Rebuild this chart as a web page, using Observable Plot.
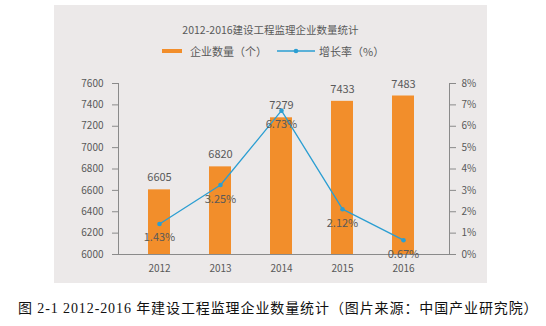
<!DOCTYPE html>
<html>
<head>
<meta charset="utf-8">
<script src="https://cdn.jsdelivr.net/npm/d3@7"></script>
<script src="https://cdn.jsdelivr.net/npm/@observablehq/plot@0.6"></script>
<style>
  html, body { margin: 0; padding: 0; background: #fff; }
  #wrap { position: relative; width: 546px; height: 326px; overflow: hidden; font-family: "Noto Sans CJK SC", "Noto Sans", sans-serif; }
  #panel { position: absolute; left: 54px; top: 5px; width: 433px; height: 278px; background: #ECE9E9; }
  #title { position: absolute; left: 0; width: 433px; top: 17px; text-align: center; font-size: 10.5px; color: #595959; }
  #legend { position: absolute; left: 0; width: 433px; top: 37px; font-size: 11px; color: #595959; }
  .li { position: absolute; top: 0; white-space: nowrap; display: flex; align-items: center; height: 18px; }
  #chart { position: absolute; left: 0; top: 65px; }
  #caption { position: absolute; left: 18px; top: 297px; font-size: 14px; color: #111; font-family: "Liberation Serif", "Noto Sans CJK SC", serif; white-space: nowrap; letter-spacing: 0.9px; }
</style>
</head>
<body>
<div id="wrap">
  <div id="panel">
    <div id="title"></div>
    <div id="legend">
      <div class="li" style="left:108px"><span style="display:inline-block;width:20px;height:4px;background:#F28E2B;margin-right:8px"></span><span id="lg1"></span></div>
      <div class="li" style="left:223px"><svg width="38" height="8" style="margin-right:4px"><line x1="0" y1="4" x2="38" y2="4" stroke="#2B9ED2" stroke-width="1.3"/><circle cx="19" cy="4" r="2.3" fill="#2B9ED2"/></svg><span id="lg2"></span></div>
    </div>
    <div id="chart"></div>
  </div>
  <div id="caption"></div>
</div>
<script>
const years = ["2012", "2013", "2014", "2015", "2016"];
const counts = [6605, 6820, 7279, 7433, 7483];
const rates = [1.43, 3.25, 6.73, 2.12, 0.67];
const leftTicks = [6000, 6200, 6400, 6600, 6800, 7000, 7200, 7400, 7600];
const rightTicks = [0, 1, 2, 3, 4, 5, 6, 7, 8];
const titleText = "2012-2016建设工程监理企业数量统计";
const seriesNames = ["企业数量（个）", "增长率（%）"];
const captionText = "图 2-1 2012-2016 年建设工程监理企业数量统计（图片来源：中国产业研究院）";

document.getElementById("title").textContent = titleText;
document.getElementById("lg1").textContent = seriesNames[0];
document.getElementById("lg2").textContent = seriesNames[1];
document.getElementById("caption").textContent = captionText;

// map percentage axis (0..8%) onto the count axis (6000..7600)
const yMin = 6000, yMax = 7600, rMax = 8;
const toY = r => yMin + r / rMax * (yMax - yMin);
const fromY = v => (v - yMin) / (yMax - yMin) * rMax;

const data = years.map((y, i) => ({year: y, count: counts[i], rate: rates[i], ry: toY(rates[i])}));

const axisColor = "#8a8a8a";
const textColor = "#595959";

const chart = Plot.plot({
  width: 433,
  height: 213,
  marginLeft: 64,
  marginRight: 38,
  marginTop: 13,
  marginBottom: 29,
  style: {background: "transparent", fontFamily: "'Noto Sans CJK SC', 'Noto Sans', sans-serif", color: textColor},
  x: {type: "band", domain: years, paddingInner: 0.644, paddingOuter: 0.5, align: 0.46},
  y: {domain: [yMin, yMax]},
  marks: [
    Plot.barY(data, {x: "year", y1: yMin, y2: "count", fill: "#F28E2B"}),
    Plot.axisY({anchor: "left", ticks: leftTicks, tickFormat: d => String(d), tickSize: 6, tickPadding: 9, label: null, fontSize: 10, stroke: axisColor, color: textColor}),
    Plot.axisY({anchor: "right", ticks: rightTicks.map(toY), tickFormat: v => Math.round(fromY(v)) + "%", tickSize: 6, tickPadding: 6, label: null, fontSize: 10, stroke: axisColor, color: textColor}),
    Plot.axisX({anchor: "bottom", tickSize: 0, tickPadding: 10, label: null, fontSize: 10, color: textColor}),
    Plot.frame({anchor: "left", stroke: axisColor}),
    Plot.frame({anchor: "right", stroke: axisColor}),
    Plot.frame({anchor: "bottom", stroke: axisColor}),
    Plot.lineY(data, {x: "year", y: "ry", stroke: "#2B9ED2", strokeWidth: 1.3}),
    Plot.dot(data, {x: "year", y: "ry", r: 2.3, fill: "#2B9ED2"}),
    Plot.text(data, {x: "year", y: "count", text: d => String(d.count), dy: -12, fontSize: 11, fill: textColor}),
    Plot.text(data, {x: "year", y: "ry", text: d => d.rate.toFixed(2) + "%", dy: 14, fontSize: 11, fill: textColor})
  ]
});
document.getElementById("chart").appendChild(chart);
</script>
</body>
</html>
